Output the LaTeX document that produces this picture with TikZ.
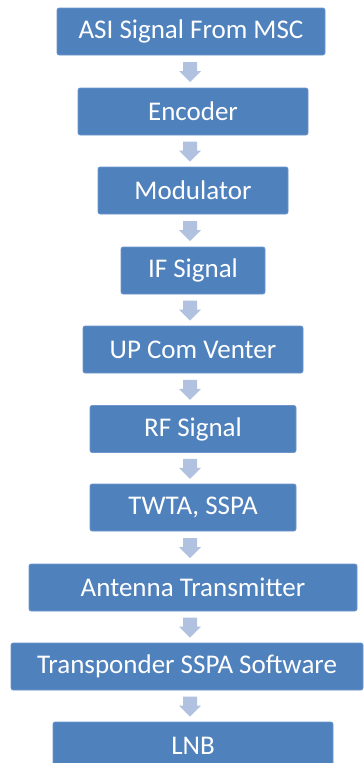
\documentclass[tikz,border=0pt]{standalone}
\usepackage{fontspec}
\setmainfont{Carlito}
\usetikzlibrary{calc}
\definecolor{boxblue}{RGB}{79,129,189}
\definecolor{boxedge}{RGB}{110,150,205}
\definecolor{arrowblue}{RGB}{176,194,224}
\tikzset{
  stage/.style={rectangle, rounded corners=2pt, fill=boxblue, draw=boxedge,
    line width=0.6pt, text=white, font=\fontsize{27}{32}\selectfont,
    minimum height=47pt, inner sep=0pt},
  arrowfill/.style={fill=arrowblue, draw=none}
}
% block arrow in the gap between node #1 and node #2
\newcommand\flowarrow[2]{%
  \path let \p1=(#1.south), \p2=(#2.north), \p3=(0,{(\y1+\y2)/2}) in
    [arrowfill] (183pt,\y3+9.5pt) -- (197pt,\y3+9.5pt) -- (197pt,\y3+0.5pt)
    -- (201pt,\y3+0.5pt) -- (190pt,\y3-10.5pt) -- (179pt,\y3+0.5pt)
    -- (183pt,\y3+0.5pt) -- cycle;}
\begin{document}
\begin{tikzpicture}[x=1pt,y=-1pt]
\clip (0,0) rectangle (364,763);
\fill[white] (0,0) rectangle (364,763);
\node[stage, minimum width=268pt] (s1) at (191,31.5) {ASI Signal From MSC};
\node[stage, minimum width=230pt] (s2) at (193,111.5) {Encoder};
\node[stage, minimum width=190pt] (s3) at (193,190.5) {Modulator};
\node[stage, minimum width=144pt] (s4) at (193,270.5) {IF Signal};
\node[stage, minimum width=220pt] (s5) at (193,349.5) {UP Com Venter};
\node[stage, minimum width=206pt] (s6) at (193,429) {RF Signal};
\node[stage, minimum width=206pt] (s7) at (193,507.5) {TWTA, SSPA};
\node[stage, minimum width=328pt] (s8) at (193,587.5) {Antenna Transmitter};
\node[stage, minimum width=352pt] (s9) at (187,666.5) {Transponder SSPA Software};
\node[stage, minimum width=280pt] (s10) at (193,745.5) {LNB};
\foreach \a/\b in {s1/s2,s2/s3,s3/s4,s4/s5,s5/s6,s6/s7,s7/s8,s8/s9,s9/s10}
  {\flowarrow{\a}{\b}}
\end{tikzpicture}
\end{document}
